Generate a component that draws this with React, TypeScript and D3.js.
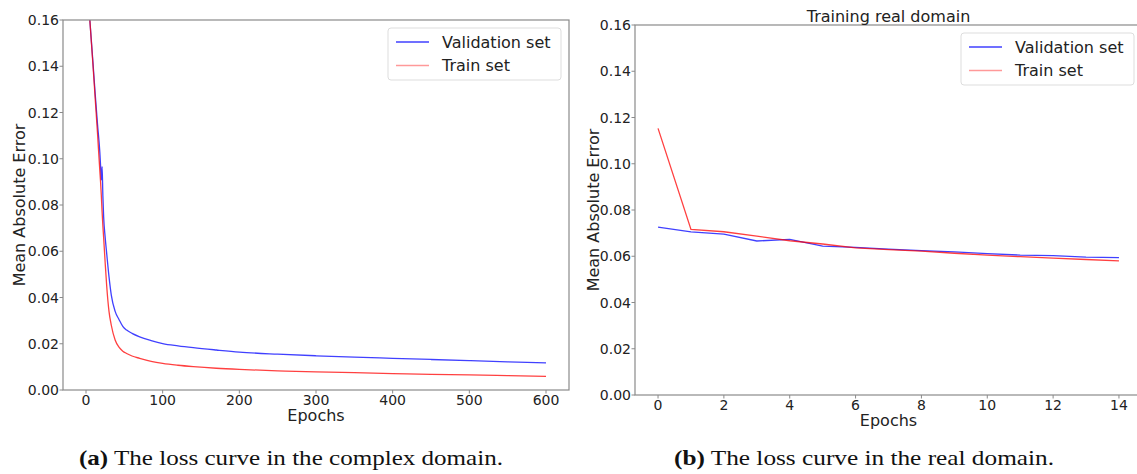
import React from 'react';
import * as d3 from 'd3';

// complex domain, values (shared epochs)
const complexEpochs = [0, 5, 9, 12, 15, 18, 19, 20, 21, 22, 23, 25, 27, 30, 33, 38, 43, 48, 53, 60, 70, 85, 100, 120, 140, 170, 200, 250, 300, 350, 400, 450, 500, 550, 600];
const complexVal = [0.186, 0.16, 0.142, 0.128, 0.115, 0.103, 0.097, 0.0908, 0.0966, 0.084, 0.075, 0.066, 0.059, 0.049, 0.041, 0.034, 0.0305, 0.0275, 0.0259, 0.0245, 0.023, 0.0214, 0.0201, 0.0191, 0.0183, 0.0173, 0.0164, 0.0155, 0.0148, 0.0142, 0.0137, 0.0132, 0.0127, 0.0122, 0.0117];
const complexTrain = [0.186, 0.16, 0.141, 0.126, 0.111, 0.095, 0.09, 0.084, 0.077, 0.071, 0.066, 0.055, 0.045, 0.034, 0.028, 0.0216, 0.0185, 0.0168, 0.0158, 0.0147, 0.0137, 0.0124, 0.0115, 0.0107, 0.0101, 0.0094, 0.0089, 0.0083, 0.0078, 0.0075, 0.0071, 0.0068, 0.0065, 0.0062, 0.0059];

// real domain
const realEpochs = [0, 1, 2, 3, 4, 5, 6, 7, 8, 9, 10, 11, 12, 13, 14];
const realVal = [0.0726, 0.0705, 0.0696, 0.0666, 0.0673, 0.0644, 0.0638, 0.0631, 0.0624, 0.0619, 0.0611, 0.0605, 0.0603, 0.0596, 0.0594];
const realTrain = [0.1153, 0.0716, 0.0706, 0.0687, 0.0667, 0.0653, 0.0636, 0.0629, 0.0622, 0.0613, 0.0605, 0.0598, 0.0592, 0.0586, 0.058];

const complexTicks = [0, 100, 200, 300, 400, 500, 600];
const realTicks = [0, 2, 4, 6, 8, 10, 12, 14];
const yTicks = [0, 0.02, 0.04, 0.06, 0.08, 0.1, 0.12, 0.14, 0.16];
const seriesNames = ['Validation set', 'Train set'];

const FONT = 'DejaVu Sans';
const SPINE = '#8a8a8a';
const BLUE = 'rgba(0,0,255,0.75)';
const RED = 'rgba(255,0,0,0.75)';

type PanelProps = {
  id: string;
  left: number; right: number; top: number; bottom: number;
  xDomain: [number, number];
  xTicks: number[];
  epochs: number[];
  val: number[];
  train: number[];
  smooth: boolean;
  title?: string;
  yLabelX: number;
};

const Panel = (p: PanelProps) => {
  const x = d3.scaleLinear().domain(p.xDomain).range([p.left, p.right]);
  const y = d3.scaleLinear().domain([0, 0.16]).range([p.bottom, p.top]);
  const line = d3.line<number>()
    .x((_, i) => x(p.epochs[i]))
    .y(d => y(d))
    .curve(p.smooth ? d3.curveMonotoneX : d3.curveLinear);
  const midX = (p.left + p.right) / 2;
  const midY = (p.top + p.bottom) / 2;
  const lgRight = p.right - 8;
  const lgLeft = lgRight - 173;
  const lgTop = p.top + 8;
  return (
    <g>
      <defs>
        <clipPath id={p.id}>
          <rect x={p.left} y={p.top} width={p.right - p.left} height={p.bottom - p.top} />
        </clipPath>
      </defs>
      <g clipPath={`url(#${p.id})`}>
        <path d={line(p.val) || ''} fill="none" stroke={BLUE} strokeWidth={1.3} />
        <path d={line(p.train) || ''} fill="none" stroke={RED} strokeWidth={1.3} />
      </g>
      <rect x={p.left} y={p.top} width={p.right - p.left} height={p.bottom - p.top} fill="none" stroke={SPINE} strokeWidth={1.2} />
      {p.xTicks.map(t => (
        <g key={t}>
          <line x1={x(t)} x2={x(t)} y1={p.bottom} y2={p.bottom + 3.5} stroke={SPINE} />
          <text x={x(t)} y={p.bottom + 15} textAnchor="middle" fontFamily={FONT} fontSize={14} fill="#222">{t}</text>
        </g>
      ))}
      {yTicks.map(t => (
        <g key={t}>
          <line x1={p.left - 3.5} x2={p.left} y1={y(t)} y2={y(t)} stroke={SPINE} />
          <text x={p.left - 4} y={y(t) + 5} textAnchor="end" fontFamily={FONT} fontSize={14} fill="#222">{t.toFixed(2)}</text>
        </g>
      ))}
      <text x={midX} y={p.bottom + 31} textAnchor="middle" fontFamily={FONT} fontSize={16} fill="#222">Epochs</text>
      <text transform={`translate(${p.yLabelX},${midY}) rotate(-90)`} textAnchor="middle" fontFamily={FONT} fontSize={16} fill="#222">Mean Absolute Error</text>
      {p.title && (
        <text x={midX} y={p.top - 3} textAnchor="middle" fontFamily={FONT} fontSize={16} fill="#222">{p.title}</text>
      )}
      <rect x={lgLeft} y={lgTop} width={173} height={52} rx={3} fill="white" fillOpacity={0.8} stroke="#dddddd" />
      {seriesNames.map((s, i) => (
        <g key={s}>
          <line x1={lgLeft + 8} x2={lgLeft + 41} y1={lgTop + 14 + i * 23.5} y2={lgTop + 14 + i * 23.5}
            stroke={i === 0 ? BLUE : 'rgba(255,0,0,0.4)'} strokeWidth={1.3} />
          <text x={lgLeft + 54} y={lgTop + 19.5 + i * 23.5} fontFamily={FONT} fontSize={16} fill="#222">{s}</text>
        </g>
      ))}
    </g>
  );
};

export default function App() {
  return (
    <svg width={1137} height={474} style={{ position: 'absolute', left: 0, top: 0, background: 'white' }}>
      <Panel id="clipA" left={63} right={569} top={20} bottom={390} xDomain={[-30, 630]} xTicks={complexTicks}
        epochs={complexEpochs} val={complexVal} train={complexTrain} smooth yLabelX={25} />
      <Panel id="clipB" left={635} right={1142} top={25} bottom={395} xDomain={[-0.7, 14.7]} xTicks={realTicks}
        epochs={realEpochs} val={realVal} train={realTrain} smooth={false} title="Training real domain" yLabelX={599} />
      <text x={291} y={465} textAnchor="middle" fontFamily="Liberation Serif" fontSize={22} fill="#111"
        textLength={424} lengthAdjust="spacingAndGlyphs">
        <tspan fontWeight="bold">(a)</tspan> The loss curve in the complex domain.
      </text>
      <text x={864} y={465} textAnchor="middle" fontFamily="Liberation Serif" fontSize={22} fill="#111"
        textLength={380} lengthAdjust="spacingAndGlyphs">
        <tspan fontWeight="bold">(b)</tspan> The loss curve in the real domain.
      </text>
    </svg>
  );
}
